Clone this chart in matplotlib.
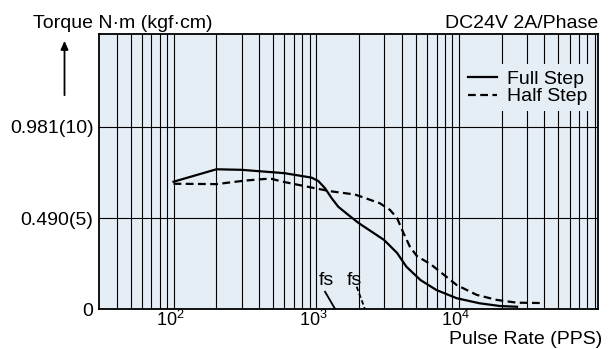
import matplotlib.pyplot as plt
import matplotlib.transforms as mtransforms
import numpy as np

plt.rcParams['font.family'] = ['Liberation Sans', 'DejaVu Sans']
plt.rcParams['mathtext.fontset'] = 'custom'
plt.rcParams['mathtext.rm'] = 'Liberation Sans'

# Full step pull-out torque curve (pulse rate in PPS, torque in N·m)
full_pps = [100, 200, 300, 600, 930, 1036, 1155, 1287, 1431, 1683, 2000,
            3000, 3700, 4300, 5400, 7000, 9700, 14000, 19500, 25700]
full_torque = [0.686, 0.753, 0.750, 0.732, 0.708, 0.690, 0.651, 0.597, 0.551,
               0.507, 0.462, 0.372, 0.302, 0.228, 0.156, 0.102, 0.058, 0.031,
               0.016, 0.012]

# Half step curve
half_pps = [100, 200, 317, 440, 490, 575, 980, 1250, 1875, 2800, 3300, 3700,
            4100, 4550, 5100, 6400, 9700, 13400, 18500, 25600, 40000]
half_torque = [0.675, 0.673, 0.692, 0.701, 0.701, 0.687, 0.651, 0.635, 0.617,
               0.570, 0.534, 0.490, 0.410, 0.336, 0.285, 0.240, 0.129, 0.076,
               0.049, 0.034, 0.032]

# Max starting frequency for each mode
fs_full = 1360
fs_half = 2200

y_ticks = [0, 0.490, 0.981]
y_labels = ['0', '0.490(5)', '0.981(10)']
x_ticks = [100, 1000, 10000]
x_labels = [r'$\mathregular{10^2}$', r'$\mathregular{10^3}$', r'$\mathregular{10^4}$']

fs = 14
bg = '#e5edf5'

fig = plt.figure(figsize=(6.13, 3.49), dpi=100)
ax = fig.add_axes([99 / 613, 1 - 309 / 349, 499 / 613, 275 / 349])
ax.set_facecolor(bg)

ax.set_xscale('log')
ax.set_xlim(30, 95000)
ax.set_ylim(0, 1.482)

# grid: every 1..9 x 10^k vertically, only the labelled torques horizontally
minor = [m * 10 ** k for k in range(1, 5) for m in range(1, 10)]
minor = [v for v in minor if 30 < v < 95000 and v not in x_ticks]
ax.set_xticks(x_ticks)
ax.set_xticklabels(x_labels, fontsize=13)
ax.set_xticks(minor, minor=True)
ax.set_xticklabels([], minor=True)
ax.set_yticks(y_ticks)
ax.set_yticklabels(y_labels, fontsize=fs)
ax.tick_params(which='both', length=0)
ax.tick_params(axis='x', pad=1)
ax.tick_params(axis='y', pad=4)
ax.grid(True, which='both', axis='x', color='black', linewidth=0.8)
ax.grid(True, which='major', axis='y', color='black', linewidth=0.8)
ax.set_axisbelow(True)
for s in ax.spines.values():
    s.set_linewidth(1.3)

# nudge the decade labels a little to the left
shift = mtransforms.ScaledTranslation(-3 / 100, 0, fig.dpi_scale_trans)
for lbl in ax.get_xticklabels():
    lbl.set_transform(lbl.get_transform() + shift)

ax.plot(full_pps, full_torque, color='black', linewidth=1.6, label='Full Step')
ax.plot(half_pps, half_torque, color='black', linewidth=1.6,
        dashes=(3.5, 2), label='Half Step')

# fs markers pointing down to the pulse-rate axis
ax.plot([fs_full * 0.85, fs_full], [0.093, 0], color='black', linewidth=1.3)
ax.plot([fs_half * 0.876, fs_half], [0.12, 0], color='black', linewidth=1.3,
        dashes=(2.5, 1.5))
ax.text(fs_full * 0.873, 0.156, 'fs', fontsize=fs, ha='center', va='center')
ax.text(fs_half * 0.84, 0.156, 'fs', fontsize=fs, ha='center', va='center')

leg = ax.legend(loc='upper right', bbox_to_anchor=(0.99, 0.89),
                fontsize=fs, handlelength=1.5, handletextpad=0.5,
                labelspacing=0.0, borderpad=0.3, borderaxespad=0,
                frameon=True, fancybox=False)
leg.get_frame().set_facecolor(bg)
leg.get_frame().set_edgecolor('none')
leg.get_frame().set_alpha(1)

fig.text(33 / 613, 1 - 27.7 / 349, 'Torque N·m (kgf·cm)', fontsize=fs,
         ha='left', va='baseline')
fig.text(598 / 613, 1 - 28 / 349, 'DC24V 2A/Phase', fontsize=fs,
         ha='right', va='baseline')
fig.text(602 / 613, 1 - 343.5 / 349, 'Pulse Rate (PPS)', fontsize=fs,
         ha='right', va='baseline')

# upward arrow beside the torque label
fig.patches.append(plt.matplotlib.patches.FancyArrowPatch(
    (64.5 / 613, 1 - 98 / 349), (64.5 / 613, 1 - 38 / 349),
    transform=fig.transFigure, arrowstyle='-|>,head_length=5,head_width=2.2',
    color='black', linewidth=1.3, mutation_scale=1))

plt.savefig('out.png', dpi=100)
